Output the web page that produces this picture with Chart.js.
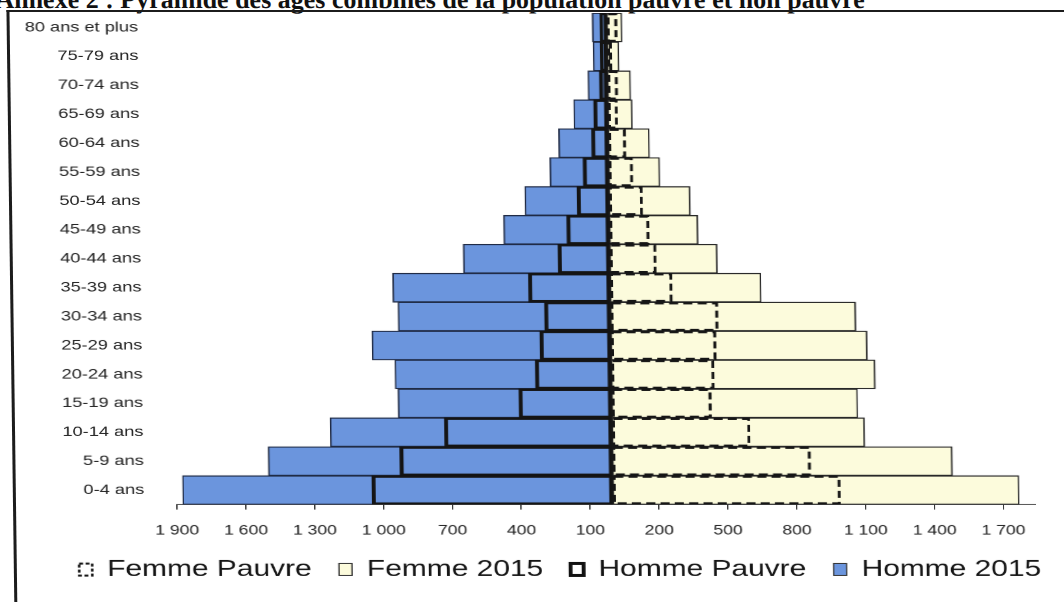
<!DOCTYPE html>
<html lang="fr">
<head>
<meta charset="utf-8">
<title>Pyramide des âges</title>
<script src="https://cdn.jsdelivr.net/npm/chart.js@4.4.1/dist/chart.umd.min.js"></script>
<style>
  html, body { margin: 0; padding: 0; background: #fff; }
  body { width: 1064px; height: 602px; overflow: hidden; position: relative; }
  /* the scan is slightly slanted, and the chart stretched in width */
  #page { position: absolute; left: 0; top: 0; width: 1064px; height: 602px;
          transform: skewX(0.76deg); transform-origin: 0 504px; }
  #titre { position: absolute; left: 2px; top: -15px; white-space: nowrap; color: #111;
           font: bold 26px "Liberation Serif", serif; }
  #cadre { position: absolute; left: 13px; top: 10px; width: 1100px; height: 700px;
           border-left: 3px solid #1c1c1c; border-top: 2px solid #1c1c1c; }
  #zone { position: absolute; left: 0; top: 0; width: 818px; height: 602px;
          transform: scaleX(1.3007); transform-origin: 0 0; }
</style>
</head>
<body>
<div id="page">
  <div id="titre">Annexe 2 : Pyramide des âges combinés de la population pauvre et non pauvre</div>
  <div id="cadre"></div>
  <div id="zone"><canvas id="pyramide"></canvas></div>
</div>
<script>
var ageGroups = ["0-4 ans", "5-9 ans", "10-14 ans", "15-19 ans", "20-24 ans", "25-29 ans",
  "30-34 ans", "35-39 ans", "40-44 ans", "45-49 ans", "50-54 ans", "55-59 ans",
  "60-64 ans", "65-69 ans", "70-74 ans", "75-79 ans", "80 ans et plus"];

var femmePauvre = [992, 864, 602, 435, 449, 459, 469, 271, 203, 174, 147, 106, 77, 43, 45, 21, 46];
var femme2015 = [1769, 1480, 1100, 1071, 1149, 1116, 1068, 657, 468, 385, 353, 222, 179, 106, 100, 51, 66];
var hommePauvre = [1049, 926, 730, 403, 330, 309, 287, 355, 224, 185, 139, 110, 72, 61, 35, 29, 28];
var homme2015 = [1874, 1499, 1227, 930, 942, 1040, 925, 947, 637, 460, 366, 255, 215, 148, 84, 60, 62];

var xTickValues = [-1900, -1600, -1300, -1000, -700, -400, -100, 200, 500, 800, 1100, 1400, 1700];
var xTickLabels = ["1 900", "1 600", "1 300", "1 000", "700", "400", "100",
  "200", "500", "800", "1 100", "1 400", "1 700"];

var bleu = "#6b95dd";
var creme = "#fcfbdc";

// Femme Pauvre: dashed outline on top of the Femme 2015 bars
var barresPointillees = {
  id: "barresPointillees",
  afterDatasetsDraw: function (chart) {
    var ctx = chart.ctx;
    var lw = 2.2;
    ctx.save();
    ctx.strokeStyle = "#151515";
    ctx.lineWidth = lw;
    ctx.setLineDash([7, 4]);
    chart.getDatasetMeta(0).data.forEach(function (bar) {
      var p = bar.getProps(["x", "y", "base", "height"], true);
      var left = Math.min(p.x, p.base);
      var w = Math.abs(p.x - p.base);
      ctx.strokeRect(left + lw / 2, p.y - p.height / 2 + lw / 2, w - lw, p.height - lw);
    });
    ctx.restore();
  }
};

// the legend sits a little right of the centre in the original
var decalageLegende = {
  id: "decalageLegende",
  afterLayout: function (chart) {
    chart.legend.left += 32;
    chart.legend.right += 32;
  }
};

var legendeStyles = [
  { fillStyle: "#fff", strokeStyle: "#111", lineWidth: 2, lineDash: [3, 2] },
  { fillStyle: creme, strokeStyle: "#333", lineWidth: 1 },
  { fillStyle: "#fff", strokeStyle: "#111", lineWidth: 3 },
  { fillStyle: bleu, strokeStyle: "#333", lineWidth: 1 }
];

new Chart(document.getElementById("pyramide"), {
  type: "bar",
  data: {
    labels: ageGroups,
    datasets: [
      { label: "Femme Pauvre", data: femmePauvre, backgroundColor: "rgba(0,0,0,0)", borderWidth: 0 },
      { label: "Femme 2015", data: femme2015, backgroundColor: creme, borderColor: "#262626", borderWidth: 1.2 },
      { label: "Homme Pauvre", data: hommePauvre.map(function (v) { return -v; }),
        backgroundColor: "rgba(0,0,0,0)", borderColor: "#141414",
        borderWidth: { left: 2.4, right: 2.4, top: 1.8, bottom: 1.8 } },
      { label: "Homme 2015", data: homme2015.map(function (v) { return -v; }),
        backgroundColor: bleu, borderColor: "#1f2a44", borderWidth: 1.2 }
    ]
  },
  options: {
    indexAxis: "y",
    responsive: true,
    maintainAspectRatio: false,
    animation: false,
    devicePixelRatio: 2,
    datasets: {
      bar: { grouped: false, barPercentage: 1, categoryPercentage: 1, borderSkipped: false }
    },
    layout: { padding: { left: 0, right: 22, top: 13, bottom: 11 } },
    scales: {
      x: {
        type: "linear",
        min: -1900,
        max: 1840,
        afterBuildTicks: function (scale) {
          scale.ticks = xTickValues.map(function (v) { return { value: v }; });
        },
        afterFit: function (scale) { scale.height = 32.5; },
        ticks: {
          callback: function (value, i) { return xTickLabels[i]; },
          font: { family: "Liberation Sans", size: 13.5 },
          color: "#222",
          padding: 13,
          maxRotation: 0,
          autoSkip: false
        },
        grid: { drawOnChartArea: false, tickLength: 5, color: "#333" },
        border: { color: "#555", width: 1 }
      },
      y: {
        reverse: true,
        afterFit: function (scale) {
          scale.width = 136;
          scale.paddingTop = 0;
          scale.paddingBottom = 0;
        },
        ticks: { font: { family: "Liberation Sans", size: 14 }, color: "#222", padding: 17 },
        grid: { display: false },
        border: { display: false }
      }
    },
    plugins: {
      legend: {
        position: "bottom",
        labels: {
          font: { family: "Liberation Sans", size: 23 },
          color: "#141414",
          boxWidth: 10,
          boxHeight: 12,
          padding: 21,
          generateLabels: function (chart) {
            var items = Chart.defaults.plugins.legend.labels.generateLabels(chart);
            items.forEach(function (it, i) { Object.assign(it, legendeStyles[i]); });
            return items;
          }
        }
      },
      tooltip: { enabled: false }
    }
  },
  plugins: [barresPointillees, decalageLegende]
});
</script>
</body>
</html>
